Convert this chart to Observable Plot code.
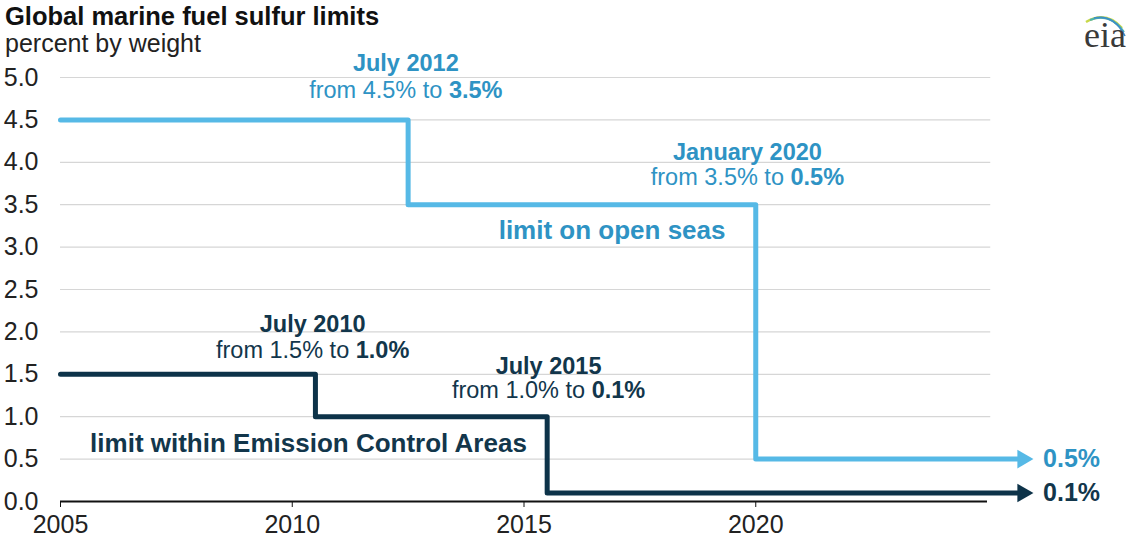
<!DOCTYPE html>
<html>
<head>
<meta charset="utf-8">
<script src="https://cdn.jsdelivr.net/npm/d3@7"></script>
<script src="https://cdn.jsdelivr.net/npm/@observablehq/plot@0.6"></script>
<style>
  body { margin: 0; background: #fff; font-family: Arial, "Liberation Sans", sans-serif; }
  #wrap { position: relative; width: 1140px; height: 548px; overflow: hidden; }
  .title { font-size: 25.5px; font-weight: bold; color: #111; line-height: 27px; padding: 3px 0 0 5px; }
  .subtitle { font-size: 25px; color: #222; line-height: 26px; padding-left: 5px; }
  .logo { position: absolute; right: 14px; top: 14px; font-family: "Liberation Serif", "DejaVu Serif", serif; font-size: 36px; color: #3a3a3a; }
  .swoosh { position: absolute; right: 12px; top: 8px; }
</style>
</head>
<body>
<div id="wrap">
  <div class="title">Global marine fuel sulfur limits</div>
  <div class="subtitle">percent by weight</div>
  <svg class="swoosh" width="50" height="30" viewBox="0 0 50 30">
    <path d="M8 14 Q28 2 44 20" fill="none" stroke="#c8d84a" stroke-width="2.5"/>
    <path d="M12 12 Q32 4 46 24" fill="none" stroke="#4cb2b0" stroke-width="2"/>
    <path d="M16 10 Q36 6 47 28" fill="none" stroke="#3d8fc7" stroke-width="1.6"/>
  </svg>
  <div class="logo">eia</div>
  <div id="chart"></div>
</div>
<script>
// ---- data ----
const openYears = [2005, 2012.5, 2020, 2025.65];
const openLimits = [4.5, 3.5, 0.5, 0.5];
const ecaYears = [2005, 2010.5, 2015.5, 2025.65];
const ecaLimits = [1.5, 1.0, 0.1, 0.1];
const yTicks = [0, 0.5, 1, 1.5, 2, 2.5, 3, 3.5, 4, 4.5, 5];
const xTicks = [2005, 2010, 2015, 2020];

// annotations: label text, bold suffix, anchor year, anchor value, series
const annoText = ["July 2012", "from 4.5% to ", "January 2020", "from 3.5% to ", "limit on open seas",
                  "July 2010", "from 1.5% to ", "July 2015", "from 1.0% to ", "limit within Emission Control Areas"];
const annoBold = ["", "3.5%", "", "0.5%", "", "", "1.0%", "", "0.1%", ""];
const annoX = [2012.45, 2012.45, 2019.82, 2019.82, 2016.9, 2010.44, 2010.44, 2015.53, 2015.53, 2010.35];
const annoY = [5.165, 4.85, 4.115, 3.82, 3.196, 2.087, 1.78, 1.59, 1.31, 0.684];
const annoSeries = ["open", "open", "open", "open", "open", "eca", "eca", "eca", "eca", "eca"];
const annoKind = ["date", "change", "date", "change", "series", "date", "change", "date", "change", "series"];

const endLabels = ["0.5%", "0.1%"];
const endValues = [0.5, 0.1];
const endSeries = ["open", "eca"];
const endLabelYear = 2026.2;
const arrowYear = 2025.76;

// ---- build tables ----
const openData = openYears.map((x, i) => ({x, y: openLimits[i]}));
const ecaData = ecaYears.map((x, i) => ({x, y: ecaLimits[i]}));
const annos = annoText.map((t, i) => ({t, b: annoBold[i], x: annoX[i], y: annoY[i], s: annoSeries[i], k: annoKind[i]}));
const ends = endLabels.map((t, i) => ({t, y: endValues[i], s: endSeries[i]}));

const lineColor = {open: "#56b9e6", eca: "#0d3349"};
const textColor = {open: "#2e93c4", eca: "#12364b"};

const plot = Plot.plot({
  width: 1140,
  height: 492,
  marginLeft: 60,
  marginRight: 153,
  marginTop: 21,
  marginBottom: 47,
  style: {fontFamily: "Arial, 'Liberation Sans', sans-serif", fontSize: "25px", color: "#222", overflow: "visible"},
  x: {domain: [2005, 2025]},
  y: {domain: [0, 5]},
  marks: [
    Plot.ruleY(yTicks.filter(d => d > 0), {x1: 2005, x2: 2025.07, stroke: "#d6d6d6", strokeWidth: 1.2}),
    Plot.axisY({ticks: yTicks, tickSize: 0, tickPadding: 22, tickFormat: d3.format(".1f"), label: null, fontSize: 25, fill: "#222"}),
    Plot.axisX({ticks: xTicks, tickSize: 6, tickPadding: 8, tickFormat: d => String(d), label: null, fontSize: 25, fill: "#222", stroke: "#111"}),
    Plot.ruleY([0], {x1: 2005, x2: 2025, stroke: "#111", strokeWidth: 2}),
    Plot.line(openData, {x: "x", y: "y", curve: "step-after", stroke: lineColor.open, strokeWidth: 5}),
    Plot.line(ecaData, {x: "x", y: "y", curve: "step-after", stroke: lineColor.eca, strokeWidth: 5}),
    Plot.dot(ends, {x: arrowYear, y: "y", symbol: "triangle", rotate: 90, r: 6.9, fill: d => lineColor[d.s], stroke: "none"}),
    Plot.text(ends, {x: endLabelYear, y: "y", text: "t", textAnchor: "start", fontWeight: "bold", fontSize: 25, fill: d => textColor[d.s]}),
    Plot.text(annos.filter(d => d.k === "date"), {x: "x", y: "y", text: "t", fontWeight: "bold", fontSize: 23.5, fill: d => textColor[d.s]}),
    Plot.text(annos.filter(d => d.k === "series"), {x: "x", y: "y", text: "t", fontWeight: "bold", fontSize: 26, fill: d => textColor[d.s]}),
    Plot.text(annos.filter(d => d.k === "change"), {x: "x", y: "y", text: d => d.t + d.b, fontSize: 23.5, fill: d => textColor[d.s]})
  ]
});

// render the bold suffix of the "from … to …" lines as a bold tspan
d3.select(plot).selectAll("text").each(function() {
  const el = d3.select(this);
  const txt = el.text();
  const a = annos.find(d => d.b && d.t + d.b === txt);
  if (a) {
    el.text(null);
    el.append("tspan").text(a.t);
    el.append("tspan").attr("font-weight", "bold").text(a.b);
  }
});

document.getElementById("chart").appendChild(plot);
</script>
</body>
</html>
